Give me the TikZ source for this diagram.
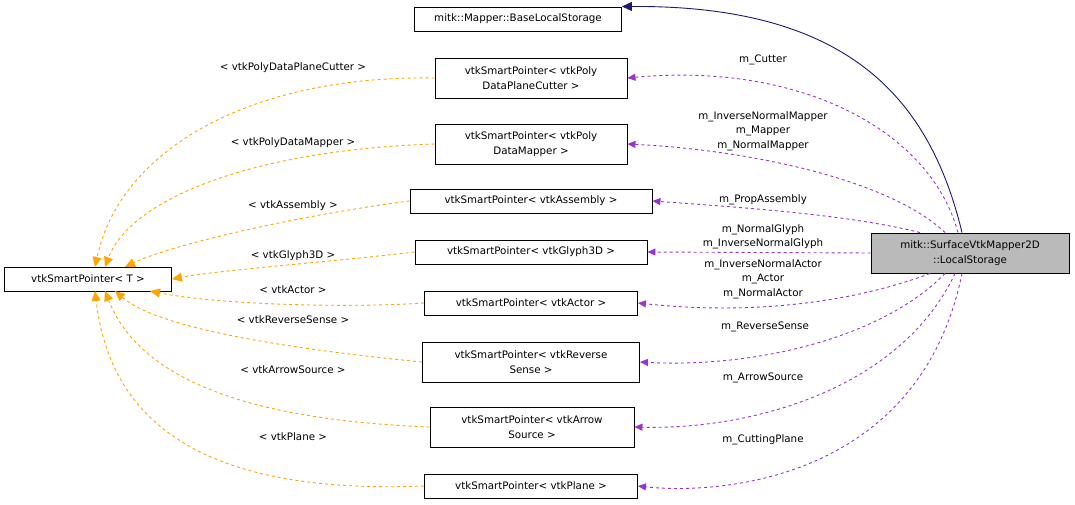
\documentclass[tikz,border=0pt]{standalone}
\usepackage{fontspec}
\setmainfont{DejaVu Sans}
\usetikzlibrary{arrows.meta,calc}
\definecolor{pur}{HTML}{9A32CD}
\definecolor{org}{HTML}{FFA500}
\definecolor{nav}{HTML}{191970}
\begin{document}
\begin{tikzpicture}[x=1pt,y=-1pt,line width=0.9pt,
 box/.style={draw,inner sep=0pt,align=center,font=\fontsize{10.3}{14.5}\selectfont},
 lab/.style={align=center,font=\fontsize{10.3}{14.5}\selectfont,inner sep=0pt},
 mem/.style={pur,dashed,-{Triangle[length=8pt,width=7pt]}},
 tpl/.style={org,dashed,-{Triangle[length=10pt,width=9pt]}}]
\useasboundingbox (0,0) rectangle (1075,505);
\node[box,minimum width=207,minimum height=24] (base) at (518,19) {mitk::Mapper::BaseLocalStorage};
\node[box,minimum width=192,minimum height=40] (cut) at (531,78) {vtkSmartPointer< vtkPoly\\DataPlaneCutter >};
\node[box,minimum width=192,minimum height=40] (pdm) at (531,144) {vtkSmartPointer< vtkPoly\\DataMapper >};
\node[box,minimum width=242,minimum height=24] (asm) at (531,201) {vtkSmartPointer< vtkAssembly >};
\node[box,minimum width=232,minimum height=24] (gly) at (531,252) {vtkSmartPointer< vtkGlyph3D >};
\node[box,minimum width=213,minimum height=24] (act) at (531,303) {vtkSmartPointer< vtkActor >};
\node[box,minimum width=217,minimum height=40] (rev) at (531,362) {vtkSmartPointer< vtkReverse\\Sense >};
\node[box,minimum width=204,minimum height=40] (arr) at (532,427) {vtkSmartPointer< vtkArrow\\Source >};
\node[box,minimum width=213,minimum height=24] (pla) at (531,486) {vtkSmartPointer< vtkPlane >};
\node[box,minimum width=167,minimum height=24] (T) at (88,279) {vtkSmartPointer< T >};
\node[box,fill=black!27,minimum width=198,minimum height=40] (ls) at (970,253) {mitk::SurfaceVtkMapper2D\\::LocalStorage};
\coordinate (n1) at ($(ls.north)+(-8,0)$);
\coordinate (n2) at ($(ls.north)+(-12,0)$);
\coordinate (n3) at ($(ls.north)+(-25,0)$);
\coordinate (n4) at ($(ls.north)+(-50,0)$);
\coordinate (s1) at ($(ls.south)+(-40,0)$);
\coordinate (s2) at ($(ls.south)+(-25,0)$);
\coordinate (s3) at ($(ls.south)+(-15,0)$);
\coordinate (s4) at ($(ls.south)+(-8,0)$);
\coordinate (t1) at (95,267);
\coordinate (t2) at (105,267);
\coordinate (t3) at (125,267);
\coordinate (b1) at (150,291);
\coordinate (b2) at (115,291);
\coordinate (b3) at (105,291);
\coordinate (b4) at (95,291);
% inheritance
\draw[nav,-{Triangle[length=10pt,width=9pt]}] (n1) .. controls (930,100) and (850,5) .. (base.north east);
% members
\draw[mem] (n2) .. controls (930,130) and (800,62) .. (cut.east);
\draw[mem] (n3) .. controls (890,180) and (750,150) .. (pdm.east);
\draw[mem] (n4) .. controls (850,215) and (750,208) .. (asm.east);
\draw[mem] (ls.west) -- (gly.east);
\draw[mem] (s1) .. controls (860,300) and (760,316) .. (act.east);
\draw[mem] (s2) .. controls (880,340) and (750,368) .. (rev.east);
\draw[mem] (s3) .. controls (900,390) and (750,430) .. (arr.east);
\draw[mem] (s4) .. controls (920,480) and (720,495) .. (pla.east);
\node[lab] at (763,60) {m\_Cutter};
\node[lab] at (763,131) {m\_InverseNormalMapper\\m\_Mapper\\m\_NormalMapper};
\node[lab] at (763,237) {m\_NormalGlyph\\m\_InverseNormalGlyph};
\node[lab] at (763,200) {m\_PropAssembly};
\node[lab] at (763,279) {m\_InverseNormalActor\\m\_Actor\\m\_NormalActor};
\node[lab] at (765,327) {m\_ReverseSense};
\node[lab] at (763,378) {m\_ArrowSource};
\node[lab] at (763,440) {m\_CuttingPlane};
% templates
\draw[tpl] (cut.west) .. controls (250,75) and (120,150) .. (t1);
\draw[tpl] (pdm.west) .. controls (250,150) and (130,200) .. (t2);
\draw[tpl] (asm.west) .. controls (300,215) and (170,245) .. (t3);
\draw[tpl] (gly.west) .. controls (330,262) and (220,270) .. (T.east);
\draw[tpl] (act.west) .. controls (350,308) and (220,305) .. (b1);
\draw[tpl] (rev.west) .. controls (300,350) and (160,330) .. (b2);
\draw[tpl] (arr.west) .. controls (250,420) and (140,380) .. (b3);
\draw[tpl] (pla.west) .. controls (200,495) and (110,420) .. (b4);
\node[lab] at (293,68) {< vtkPolyDataPlaneCutter >};
\node[lab] at (293,143) {< vtkPolyDataMapper >};
\node[lab] at (293,206) {< vtkAssembly >};
\node[lab] at (293,256) {< vtkGlyph3D >};
\node[lab] at (293,290) {< vtkActor >};
\node[lab] at (293,320) {< vtkReverseSense >};
\node[lab] at (293,370) {< vtkArrowSource >};
\node[lab] at (293,437) {< vtkPlane >};
\end{tikzpicture}
\end{document}
